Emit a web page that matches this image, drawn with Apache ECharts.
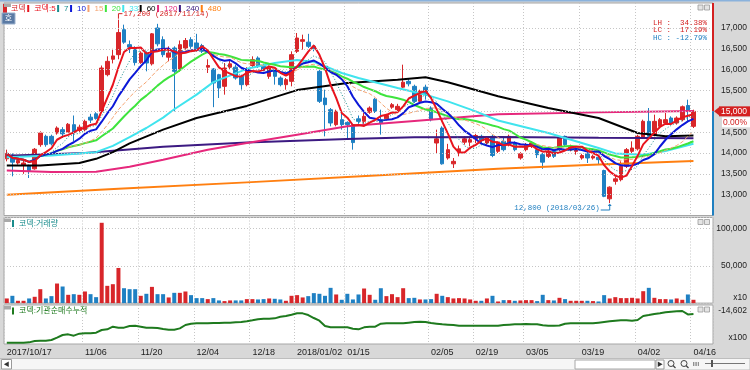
<!DOCTYPE html>
<html><head><meta charset="utf-8">
<script src="https://cdn.jsdelivr.net/npm/echarts@6/dist/echarts.min.js"></script>
<style>html,body{margin:0;padding:0;background:#d8d8d8}#c{width:750px;height:370px}</style>
</head><body><div id="c"></div><script>
// ---------------- data ----------------
const dates = ['2017/10/17','2017/10/18','2017/10/19','2017/10/20','2017/10/23','2017/10/24','2017/10/25','2017/10/26','2017/10/27','2017/10/30','2017/10/31','2017/11/01','2017/11/02','2017/11/03','2017/11/06','2017/11/07','2017/11/08','2017/11/09','2017/11/10','2017/11/13','2017/11/14','2017/11/15','2017/11/16','2017/11/17','2017/11/20','2017/11/21','2017/11/22','2017/11/23','2017/11/24','2017/11/27','2017/11/28','2017/11/29','2017/11/30','2017/12/01','2017/12/04','2017/12/05','2017/12/06','2017/12/07','2017/12/08','2017/12/11','2017/12/12','2017/12/13','2017/12/14','2017/12/15','2017/12/18','2017/12/19','2017/12/20','2017/12/21','2017/12/22','2017/12/26','2017/12/27','2017/12/28','2018/01/02','2018/01/03','2018/01/04','2018/01/05','2018/01/08','2018/01/09','2018/01/10','2018/01/11','2018/01/12','2018/01/15','2018/01/16','2018/01/17','2018/01/18','2018/01/19','2018/01/22','2018/01/23','2018/01/24','2018/01/25','2018/01/26','2018/01/29','2018/01/30','2018/01/31','2018/02/01','2018/02/02','2018/02/05','2018/02/06','2018/02/07','2018/02/08','2018/02/09','2018/02/12','2018/02/13','2018/02/14','2018/02/19','2018/02/20','2018/02/21','2018/02/22','2018/02/23','2018/02/26','2018/02/27','2018/02/28','2018/03/02','2018/03/05','2018/03/06','2018/03/07','2018/03/08','2018/03/09','2018/03/12','2018/03/13','2018/03/14','2018/03/15','2018/03/16','2018/03/19','2018/03/20','2018/03/21','2018/03/22','2018/03/23','2018/03/26','2018/03/27','2018/03/28','2018/03/29','2018/03/30','2018/04/02','2018/04/03','2018/04/04','2018/04/05','2018/04/06','2018/04/09','2018/04/10','2018/04/11','2018/04/12','2018/04/13','2018/04/16'];

const labelDates = ['2017/10/17','2017/11/06','2017/11/20','2017/12/04','2017/12/18','2018/01/02','2018/01/15','2018/02/05','2018/02/19','2018/03/05','2018/03/19','2018/04/02','2018/04/16'];
const labelTexts = ['2017/10/17','11/06','11/20','12/04','12/18','2018/01/02','01/15','02/05','02/19','03/05','03/19','04/02','04/16'];

const opens  = [13860,13950,13760,13700,13700,13620,14200,14400,14400,14480,14560,14500,14680,14540,14560,14860,14940,15000,15880,16250,16360,16960,16600,16520,16170,16400,16140,17000,16720,16300,16520,16000,16520,16720,16640,16580,16060,16015,15880,15600,16060,16060,15840,15640,16100,16280,16080,15840,15980,15800,15640,15720,16440,16680,16660,16560,15960,15320,15040,14680,14800,14735,14680,14820,14760,14980,15290,14800,14820,15100,15040,15580,15720,15600,15240,15580,15080,14240,14600,13880,13740,14020,14260,14260,14340,14400,14240,14400,14040,14280,14200,14240,13880,14080,14160,14080,13960,13920,14040,14080,14400,14080,14040,13880,13980,13880,13900,13580,12900,13320,13360,13680,14040,14100,14380,14760,14440,14640,14720,14840,14720,14800,15140,14640];
const closes = [13990,13780,13820,13760,13580,14090,14480,14200,14220,14600,14460,14690,14500,14620,14760,14790,14830,16040,16200,16330,16890,16660,16540,16170,16400,16160,16860,16620,16360,16400,15960,16600,16700,16560,16500,16440,16100,15680,15560,16040,16140,15800,15640,16010,16240,16080,16000,16060,15840,15640,15760,16360,16760,16720,16560,16500,15240,15160,14720,15000,14680,14680,14250,14760,14880,15080,15000,14720,14900,15160,15120,15700,15660,15240,15480,15400,14800,14340,13740,14080,13800,14100,14340,14320,14420,14300,14360,13940,14240,14080,14400,14080,13980,14200,14240,13960,13780,14040,13920,14360,14200,14160,14100,13940,13880,13920,13840,12960,13180,13380,13680,14080,14120,14400,14760,14400,14760,14800,14800,14720,14840,15110,15000,15000];
const lows   = [13800,13440,13720,13500,13400,13600,14150,14150,14180,14440,14360,14480,14280,14500,14520,14720,14800,14990,15840,16150,16250,16620,16400,16100,16140,15960,16100,16560,16300,16200,15000,15950,16480,16500,16450,16400,15920,15100,15320,15400,16000,15760,15520,15600,16060,16040,15960,15780,15640,15600,15520,15600,16400,16480,16520,16440,15200,14400,14640,14640,14560,14360,14080,14700,14700,14940,14960,14440,14780,15060,15000,15560,15600,15200,15200,15280,14760,14000,13720,13840,13640,13920,14200,14160,14240,14240,14200,13900,14000,14040,14160,14040,13840,14040,14120,13880,13620,13880,13880,14040,14160,14040,13960,13840,13760,13840,13720,12940,12800,13240,13320,13640,13960,14060,14340,14360,14400,14600,14680,14680,14680,14760,14760,14600];
const highs  = [14080,13990,13880,13820,13720,14120,14520,14440,14440,14640,14620,14720,14900,14680,14800,14940,14980,16100,16320,16500,17200,17080,16700,16560,16440,16440,16880,17100,16800,16560,16560,16700,16760,16780,16860,16620,16250,16040,15900,16160,16240,16120,15880,16060,16320,16320,16140,16100,16020,15840,15800,16440,16880,16840,16860,16600,16000,15520,15080,15040,14960,14760,14700,14900,14960,15120,15320,15040,14940,15200,15180,16120,15800,15640,15520,15640,15120,14560,14640,14220,13880,14180,14400,14360,14460,14440,14400,14440,14280,14400,14440,14280,14020,14240,14280,14120,14000,14080,14080,14400,14420,14200,14140,13980,14020,13960,13940,13600,13200,13440,13800,14120,14280,14440,14800,15080,14920,14840,14960,14880,14880,15140,15280,15040];

const volumes = [6240,9800,3100,3100,6240,8470,18700,6240,9360,26300,22300,11140,12000,11140,15600,12000,8000,107900,23200,25400,47200,20000,18700,18700,9800,12500,21800,12000,12000,7600,13800,13800,15600,10700,6700,6700,5350,6700,3600,2700,3600,3600,3600,5350,5350,4900,5350,6240,5800,4900,3100,9800,10700,7600,9360,13400,12500,9800,20500,11600,4460,12500,4900,11600,19600,11140,4460,20000,9360,12000,8000,20000,6700,7100,4900,4900,5350,12500,9800,8000,6240,6700,6240,4900,3100,3100,6240,9800,2200,4000,4000,3100,3560,4000,4000,2700,11140,4000,3560,7100,5350,3100,3100,3100,3100,2700,2200,10700,6240,8000,6700,6700,7100,6240,16000,20500,7100,5350,5350,4900,6240,4460,11600,4460];

const instCum = [-15298,-15298,-15298,-15298,-15290,-15257,-15249,-15249,-15233,-15176,-15111,-15095,-15127,-15078,-15070,-15070,-15054,-14989,-14973,-14908,-14932,-14932,-14892,-14884,-14908,-14932,-14932,-14940,-14965,-14981,-14981,-14949,-14867,-14835,-14827,-14827,-14827,-14819,-14819,-14810,-14810,-14802,-14794,-14778,-14754,-14729,-14713,-14713,-14705,-14665,-14648,-14616,-14583,-14583,-14624,-14697,-14762,-14892,-14924,-14924,-14924,-14924,-14957,-14973,-14924,-14908,-14908,-14835,-14827,-14827,-14827,-14827,-14810,-14794,-14786,-14794,-14819,-14835,-14851,-14859,-14867,-14884,-14884,-14884,-14884,-14884,-14884,-14884,-14884,-14867,-14859,-14851,-14851,-14843,-14851,-14851,-14875,-14884,-14884,-14880,-14835,-14827,-14827,-14827,-14827,-14827,-14810,-14794,-14778,-14762,-14754,-14754,-14762,-14745,-14648,-14624,-14599,-14583,-14559,-14542,-14534,-14526,-14610,-14602];

// long moving averages (date, value)
const ma33Pts  = [['2017/10/17',13900],['2017/10/27',13940],['2017/11/08',14020],['2017/11/13',14170],['2017/11/16',14380],['2017/11/21',14600],['2017/11/24',14850],['2017/11/28',15050],['2017/12/04',15400],['2017/12/07',15700],['2017/12/15',16020],['2017/12/22',16160],['2018/01/02',16230],['2018/01/05',16190],['2018/01/12',15920],['2018/01/17',15800],['2018/01/26',15560],['2018/02/02',15400],['2018/02/08',15240],['2018/02/19',15000],['2018/02/23',14780],['2018/03/09',14480],['2018/03/22',14120],['2018/03/27',13990],['2018/04/03',13960],['2018/04/09',14050],['2018/04/16',14220]];
const ma60Pts  = [['2017/10/17',13700],['2017/10/25',13700],['2017/11/03',13760],['2017/11/08',13860],['2017/11/13',14020],['2017/11/16',14230],['2017/11/24',14560],['2017/12/04',14840],['2017/12/15',15130],['2018/01/02',15510],['2018/01/15',15680],['2018/01/26',15760],['2018/02/02',15820],['2018/02/08',15700],['2018/02/23',15360],['2018/03/09',15080],['2018/03/22',14840],['2018/04/02',14480],['2018/04/09',14400],['2018/04/16',14420]];
const ma120Pts = [['2017/10/17',13580],['2017/10/27',13545],['2017/11/08',13550],['2017/11/16',13670],['2017/11/24',13840],['2017/12/06',14080],['2017/12/15',14240],['2018/01/02',14440],['2018/01/15',14640],['2018/01/31',14770],['2018/02/23',14930],['2018/03/22',14975],['2018/04/16',15010]];
const ma240Pts = [['2017/10/17',13935],['2017/11/06',14000],['2017/11/24',14150],['2017/12/15',14250],['2018/01/15',14335],['2018/01/31',14380],['2018/02/23',14385],['2018/03/22',14365],['2018/04/16',14355]];
const ma480Pts = [['2017/10/17',13000],['2017/11/14',13140],['2017/12/15',13295],['2018/01/22',13460],['2018/02/23',13620],['2018/03/21',13720],['2018/04/16',13810]];

const priceTicks = [13000,13500,14000,14500,15000,15500,16000,16500,17000];
const volTicks = [50000,100000];

// ---------------- styling ----------------
const FONT = "'Liberation Sans','Noto Sans CJK KR',sans-serif";
const MONO = "'Liberation Mono','DejaVu Sans Mono','Noto Sans CJK KR',monospace";
const UP = '#d8262a', DOWN = '#1f80c3';
const GL = 4, GW = 709, GR = GL + GW;
const MAIN_TOP = 3, MAIN_H = 212.5;

function ma(n){
  return closes.map((_,i)=>{const s=Math.max(0,i-n+1);let t=0;for(let k=s;k<=i;k++)t+=closes[k];return Math.round(t/(i-s+1));});
}
const fmt = v => Number(v).toLocaleString('en-US');
const axisCats = dates.concat(['\u2002','\u2003','\u2009']);
const isLabel = (idx, val) => labelDates.indexOf(val) >= 0;
const dotted = {color:'#c6c6c6', type:[1,2], width:1};

function xa(gi, show){
  return {type:'category', gridIndex:gi, data:axisCats, boundaryGap:true,
    axisLine:{show:false}, axisTick:{show:false},
    axisLabel: show ? {interval:isLabel, formatter:v=>labelTexts[labelDates.indexOf(v)]||'', align:'left',
      fontSize:9, color:'#222', margin:4, fontFamily:FONT} : {show:false},
    splitLine:{show:true, interval:isLabel, lineStyle:dotted}};
}

const maDefs = [
  {name:'480', color:'#ff7f10', data:ma480Pts, w:2},
  {name:'240', color:'#3c1a82', data:ma240Pts, w:2},
  {name:'120', color:'#e6287c', data:ma120Pts, w:2},
  {name:'60',  color:'#000000', data:ma60Pts,  w:2},
  {name:'33',  color:'#40e4ee', data:ma33Pts,  w:2},
  {name:'20',  color:'#3ee43e', data:ma(20),   w:2},
  {name:'15',  color:'#f5a26e', data:ma(15),   w:1, type:[4,2]},
  {name:'10',  color:'#0c18d8', data:ma(10),   w:2},
  {name:'7',   color:'#168c8c', data:ma(7),    w:1, type:[1,2]},
  {name:'코덱:5', color:'#e8141e', data:ma(5),  w:2}
];
const legendOrder = ['코덱','코덱:5','7','10','15','20','33','60','120','240','480'];
const colorOf = {'코덱':UP};
maDefs.forEach(m=>colorOf[m.name]=m.color);

const series = [{
  name:'코덱', type:'candlestick', xAxisIndex:0, yAxisIndex:0, barWidth:4, z:2,
  data: dates.map((d,i)=>[opens[i],closes[i],lows[i],highs[i]]),
  itemStyle:{color:UP, color0:DOWN, borderColor:UP, borderColor0:DOWN, borderWidth:1},
  markLine:{silent:true, symbol:'none', label:{show:false}, lineStyle:dotted, animation:false,
    data: priceTicks.map(v=>({yAxis:v}))}
}];
maDefs.forEach(m=>series.push({name:m.name, type:'line', xAxisIndex:0, yAxisIndex:0, data:m.data,
  symbol:'none', silent:true, z:3, color:m.color,
  lineStyle:{color:m.color, width:m.w, type:m.type||'solid'}}));
series.push({name:'코덱:거래량', type:'bar', xAxisIndex:1, yAxisIndex:1, barWidth:4, color:'#1a8c8c',
  data: volumes.map((v,i)=>({value:v, itemStyle:{color: closes[i]>=opens[i]?UP:DOWN}}))});
series.push({name:'코덱:기관순매수누적', type:'line', xAxisIndex:2, yAxisIndex:2, data:instCum,
  symbol:'none', color:'#1e7a1e', lineStyle:{color:'#1e7a1e', width:2}});

const legendBase = {padding:0, itemWidth:2, itemHeight:7, icon:'rect', selectedMode:false,
  textStyle:{fontSize:8, fontFamily:FONT}};

const option = {
  animation:false,
  backgroundColor:'#d8d8d8',
  textStyle:{fontFamily:FONT},
  grid:[
    {left:GL, top:MAIN_TOP, width:GW, height:MAIN_H, show:true, backgroundColor:'#fff', borderColor:'#a6a6a6', borderWidth:1},
    {left:GL, top:217.5, width:GW, height:85.6, show:true, backgroundColor:'#fff', borderColor:'#a6a6a6', borderWidth:1},
    {left:GL, top:305, width:GW, height:39, show:true, backgroundColor:'#fff', borderColor:'#a6a6a6', borderWidth:1}
  ],
  legend:[
    Object.assign({}, legendBase, {top:4, left:3, itemGap:1.5,
      data: legendOrder.map(n=>({name:n, itemStyle:{color:colorOf[n]}, textStyle:{color:colorOf[n]}}))}),
    Object.assign({}, legendBase, {top:219.5, left:12, itemGap:2,
      data:[{name:'코덱:거래량', itemStyle:{color:'#1a8c8c'}, textStyle:{color:'#1a8c8c'}}]}),
    Object.assign({}, legendBase, {top:307, left:12, itemGap:2,
      data:[{name:'코덱:기관순매수누적', itemStyle:{color:'#1e7a1e'}, textStyle:{color:'#1e7a1e'}}]})
  ],
  xAxis:[xa(0,false), xa(1,false), xa(2,true)],
  yAxis:[
    {type:'value', gridIndex:0, position:'right', min:12500, max:17600, interval:500,
      axisLine:{show:false}, axisTick:{show:false}, splitLine:{show:false},
      axisLabel:{formatter:v=>priceTicks.indexOf(v)>=0?fmt(v):'', fontSize:8.5, color:'#222', align:'right', margin:34}},
    {type:'value', gridIndex:1, position:'right', min:0, max:115000, interval:50000,
      axisLine:{show:false}, axisTick:{show:false}, splitLine:{show:true, lineStyle:dotted},
      axisLabel:{formatter:v=>volTicks.indexOf(v)>=0?fmt(v):'', fontSize:8.5, color:'#222', align:'right', margin:34}},
    {type:'value', gridIndex:2, position:'right', min:-15330, max:-14380,
      axisLine:{show:false}, axisTick:{show:false}, splitLine:{show:false}, axisLabel:{show:false}}
  ],
  series
};

const chart = echarts.init(document.getElementById('c'));
chart.setOption(option);

// ---------------- annotations derived from data ----------------
const hi = Math.max(...highs), lo = Math.min(...lows);
const hiIdx = highs.indexOf(hi), loIdx = lows.indexOf(lo), last = closes.length-1;
const lastC = closes[last], prevC = closes[last-1];
const hp = chart.convertToPixel({gridIndex:0},[hiIdx,hi]);
const lp = chart.convertToPixel({gridIndex:0},[loIdx,lo]);
const cp = chart.convertToPixel({gridIndex:0},[last,lastC]);
const qp = chart.convertToPixel({gridIndex:2},[last,instCum[last]]);
const pct = v => (v>=0?' ':'') + v.toFixed(2);
const lh = (hi-lo)/lo*100, lc = (lastC-lo)/lo*100, hc = (lastC-hi)/hi*100;
const chg = (lastC-prevC)/prevC*100;
const t = (x,y,text,fill,opts) => Object.assign({type:'text', x, y, silent:true,
  style:Object.assign({text, fill, font:'8.5px '+FONT, textVerticalAlign:'middle'}, opts||{})});

const g = [
  {type:'rect', shape:{x:0,y:0,width:750,height:1.5}, style:{fill:'#8ab2dc'}, silent:true},
  // high marker
  {type:'polyline', shape:{points:[[hp[0],hp[1]-1],[hp[0],hp[1]-6],[hp[0]+4,hp[1]-6]]}, style:{stroke:'#d42020', lineWidth:1, fill:null}, silent:true},
  t(hp[0]+5, hp[1]-6, fmt(hi)+' ('+dates[hiIdx]+')', '#d42020', {font:'7.5px '+MONO}),
  // low marker
  {type:'polyline', shape:{points:[[lp[0]-9,lp[1]+7],[lp[0],lp[1]+7],[lp[0],lp[1]+2]]}, style:{stroke:'#1f7fc0', lineWidth:1, fill:null}, silent:true},
  {type:'polygon', shape:{points:[[lp[0],lp[1]+0.5],[lp[0]-2,lp[1]+3],[lp[0]+2,lp[1]+3]]}, style:{fill:'#1f7fc0'}, silent:true},
  t(lp[0]-10, lp[1]+5, fmt(lo)+' ('+dates[loIdx]+')', '#1f7fc0', {font:'7.5px '+MONO, textAlign:'right'}),
  // LH / LC / HC
  t(707, 23, 'LH : '+pct(lh).padStart(6)+'%', '#d42020', {font:'7.5px '+MONO, textAlign:'right'}),
  t(707, 30.5, 'LC : '+pct(lc).padStart(6)+'%', '#d42020', {font:'7.5px '+MONO, textAlign:'right'}),
  t(707, 38, 'HC : '+pct(hc).padStart(6)+'%', '#1f7fc0', {font:'7.5px '+MONO, textAlign:'right'}),
  // current price bar on right edge of main pane
  {type:'line', shape:{x1:GR,y1:MAIN_TOP,x2:GR,y2:cp[1]}, style:{stroke:'#d42020', lineWidth:2}, silent:true},
  {type:'line', shape:{x1:GR,y1:cp[1],x2:GR,y2:MAIN_TOP+MAIN_H}, style:{stroke:'#1f7fc0', lineWidth:2}, silent:true},
  {type:'polygon', shape:{points:[[GR+1,cp[1]],[GR+6,cp[1]-4],[GR+6,cp[1]+4]]}, style:{fill:'#d42020'}, silent:true},
  {type:'rect', shape:{x:GR+6,y:cp[1]-5,width:31,height:10}, style:{fill:'#d42020'}, silent:true},
  t(747, cp[1], fmt(lastC), '#fff', {textAlign:'right'}),
  {type:'rect', shape:{x:GR+9,y:cp[1]+6,width:28,height:10}, style:{fill:'#fff'}, silent:true},
  t(747, cp[1]+11, chg.toFixed(2)+'%', '#d42020', {textAlign:'right'}),
  // unit labels / last value for lower panes
  t(747, 298, 'x10', '#222', {textAlign:'right'}),
  t(747, Math.max(qp[1]-3, 309), fmt(instCum[last]), '#222', {textAlign:'right'}),
  t(747, 338, 'x100', '#222', {textAlign:'right'}),
  // "호" button
  {type:'rect', shape:{x:2,y:13,width:13,height:11}, style:{fill:'#5a7aa4', stroke:'#9ab0cc', lineWidth:1}, silent:true},
  t(8.5, 18.5, '호', '#fff', {textAlign:'center', font:'8px '+FONT}),
  // small pane tabs
  {type:'rect', shape:{x:4,y:3.5,width:7,height:3.5}, style:{fill:'#a9a9a9'}, silent:true},
  {type:'rect', shape:{x:4,y:218.5,width:7,height:3.5}, style:{fill:'#a9a9a9'}, silent:true},
  {type:'rect', shape:{x:4,y:306,width:7,height:3.5}, style:{fill:'#a9a9a9'}, silent:true}
];
[5, 219.5, 307].forEach(y=>{
  g.push({type:'rect', shape:{x:698,y:y,width:5,height:5}, style:{fill:'#e4e4e4', stroke:'#9a9a9a', lineWidth:0.8}, silent:true});
  g.push({type:'rect', shape:{x:704.5,y:y,width:5,height:5}, style:{fill:'#e4e4e4', stroke:'#9a9a9a', lineWidth:0.8}, silent:true});
});
// bottom scroll bar strip
g.push({type:'rect', shape:{x:0,y:358.5,width:750,height:11.5}, style:{fill:'#f6f6f6', stroke:'#bdbdbd', lineWidth:1}, silent:true});
g.push({type:'rect', shape:{x:1.5,y:359.5,width:10,height:9.5}, style:{fill:'#fff', stroke:'#9a9a9a', lineWidth:1}, silent:true});
g.push(t(6.5, 364.5, '◀', '#333', {textAlign:'center', font:'6px '+FONT}));
g.push({type:'rect', shape:{x:575,y:360,width:80,height:9}, style:{fill:'#fff', stroke:'#a8a8a8', lineWidth:1}, silent:true});
g.push({type:'rect', shape:{x:656,y:360,width:8,height:9}, style:{fill:'#fff', stroke:'#9a9a9a', lineWidth:1}, silent:true});
g.push(t(660, 364.5, '▶', '#333', {textAlign:'center', font:'6px '+FONT}));
[671, 684].forEach(x=>{
  g.push({type:'circle', shape:{cx:x,cy:363.5,r:3}, style:{fill:null, stroke:'#444', lineWidth:1}, silent:true});
  g.push({type:'line', shape:{x1:x+2,y1:365.5,x2:x+4.5,y2:368}, style:{stroke:'#444', lineWidth:1.2}, silent:true});
});
g.push(t(696, 364, 'IIII', '#444', {textAlign:'center', font:'6px '+FONT}));
g.push({type:'line', shape:{x1:705,y1:363.5,x2:745,y2:363.5}, style:{stroke:'#777', lineWidth:1}, silent:true});
g.push({type:'rect', shape:{x:711,y:360,width:2,height:7}, style:{fill:'#555'}, silent:true});
g.forEach(el=>{ el.z = 100; el.zlevel = 1; });
chart.setOption({graphic:g});
</script></body></html>
